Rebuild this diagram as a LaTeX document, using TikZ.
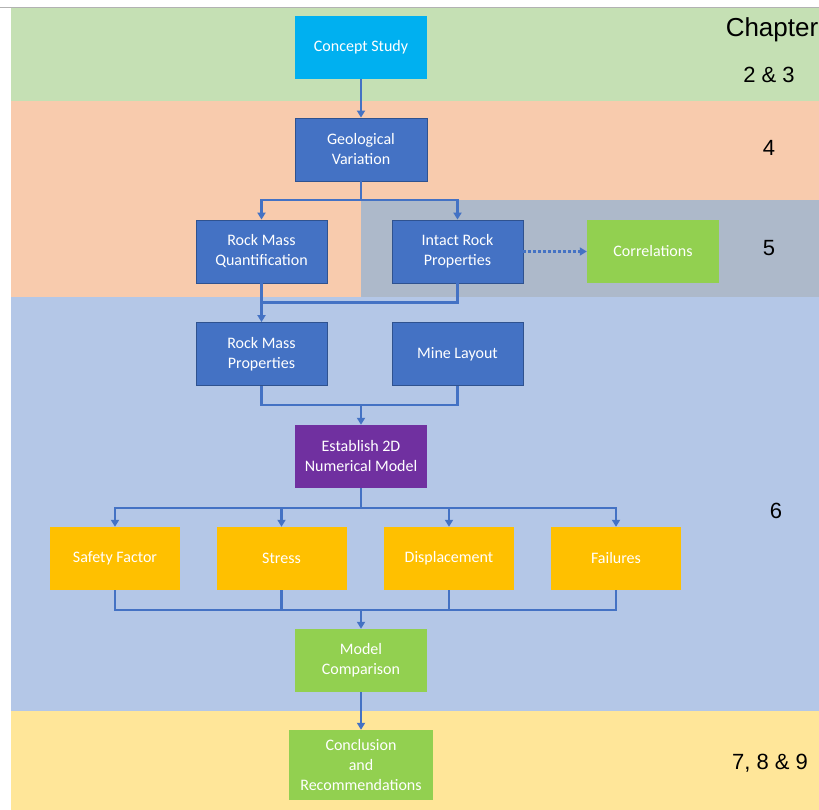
\documentclass[tikz,border=0pt]{standalone}
\usepackage{fontspec}
\usepackage{tikz}
\usetikzlibrary{arrows.meta,calc}
\setmainfont{Liberation Sans}
\newfontfamily\carlito{Carlito}

\definecolor{bandgreen}{HTML}{C5E0B4}
\definecolor{bandorange}{HTML}{F8CBAD}
\definecolor{bandgray}{HTML}{ADB9CA}
\definecolor{bandblue}{HTML}{B4C7E7}
\definecolor{bandyellow}{HTML}{FFE699}
\definecolor{boxblue}{HTML}{4472C4}
\definecolor{boxedge}{HTML}{2F528F}
\definecolor{boxcyan}{HTML}{00B0F0}
\definecolor{boxpurple}{HTML}{7030A0}
\definecolor{boxorange}{HTML}{FFC000}
\definecolor{boxgreen}{HTML}{92D050}

\tikzset{
  stage/.style={minimum width=132pt, minimum height=63pt, inner sep=0pt, align=center,
    text=white, font=\carlito\fontsize{16}{20}\selectfont},
  bluebox/.style={stage, fill=boxblue, draw=boxedge, line width=0.8pt},
  cyanbox/.style={stage, fill=boxcyan},
  purplebox/.style={stage, fill=boxpurple},
  orangebox/.style={stage, fill=boxorange, minimum width=130pt},
  greenbox/.style={stage, fill=boxgreen},
  link/.style={draw=boxblue, line width=2.5pt},
  conn/.style={link, -{Triangle[width=8pt,length=7pt]}},
  chap/.style={font=\fontsize{22}{26}\selectfont, text=black}
}

\begin{document}
\begin{tikzpicture}[x=1pt,y=-1pt]
	\useasboundingbox (0,0) rectangle (819,810);
	
	% chapter bands
	\fill[bandgreen] (11,8) rectangle (819,101);
	\fill[bandorange] (11,101) rectangle (819,297);
	\fill[bandgray] (361,200) rectangle (819,297);
	\fill[bandblue] (11,297) rectangle (819,711);
	\fill[bandyellow] (11,711) rectangle (819,810);
	\draw[gray!60, line width=1pt] (0,8) -- (819,8);
	
	% stages
	\node[cyanbox] (cs) at (361,47.5) {Concept Study};
	\node[bluebox] (gv) at (361,149.5) {Geological\\Variation};
	\node[bluebox, minimum width=131pt] (rmq) at (261.5,251.5) {Rock Mass\\Quantification};
	\node[bluebox, minimum width=131pt] (irp) at (457.5,251.5) {Intact Rock\\Properties};
	\node[greenbox] (cor) at (653,251.5) {Correlations};
	\node[bluebox, minimum width=131pt] (rmp) at (261.5,354) {Rock Mass\\Properties};
	\node[bluebox, minimum width=131pt] (ml) at (457.5,354) {Mine Layout};
	\node[purplebox] (nm) at (361,456.5) {Establish 2D\\Numerical Model};
	\node[orangebox] (sf) at (115,558.5) {Safety Factor};
	\node[orangebox] (st) at (281.5,558.5) {Stress};
	\node[orangebox] (dp) at (449,558.5) {Displacement};
	\node[orangebox] (fl) at (616,558.5) {Failures};
	\node[greenbox] (mc) at (361,660.5) {Model\\Comparison};
	\node[greenbox, minimum width=144pt, minimum height=70pt] (cr) at (361,765) {Conclusion\\and\\Recommendations};
	
	% junctions
	\coordinate (j0) at (361,200);
	\coordinate (j1) at (361,405);
	\coordinate (j2) at (361,508);
	\coordinate (j3) at (361,610);
	
	% connectors
	\draw[conn] (cs) -- (gv);
	\draw[link] (gv.south) -- (j0);
	\draw[conn] (j0) -| (rmq.north);
	\draw[conn] (j0) -| (irp.north);
	\draw[conn] (rmq) -- (rmp);
	\draw[link] (irp.south) -- ++(0,19) -| (rmq.south);
	\draw[conn, dash pattern=on 2.5pt off 2.5pt] (irp) -- (cor);
	\draw[link] (rmp.south) |- (j1) -| (ml.south);
	\draw[conn] (j1) -- (nm);
	\draw[link] (nm.south) -- (j2);
	\foreach \b in {sf,st,dp,fl} {
		\draw[conn] (j2) -| (\b.north);
		\draw[link] (\b.south) |- (j3);
	}
	\draw[conn] (j3) -- (mc);
	\draw[conn] (mc) -- (cr);
	
	% chapter labels
	\node[chap, font=\fontsize{26}{30}\selectfont] (chapter) at (772,30) {Chapter};
	\node[chap] (c23) at (769,75) {2 \& 3};
	\node[chap] (c4) at (769,148) {4};
	\node[chap] (c5) at (769,248) {5};
	\node[chap] (c6) at (776,511) {6};
	\node[chap] (c789) at (770,763) {7, 8 \& 9};
\end{tikzpicture}
\end{document}
